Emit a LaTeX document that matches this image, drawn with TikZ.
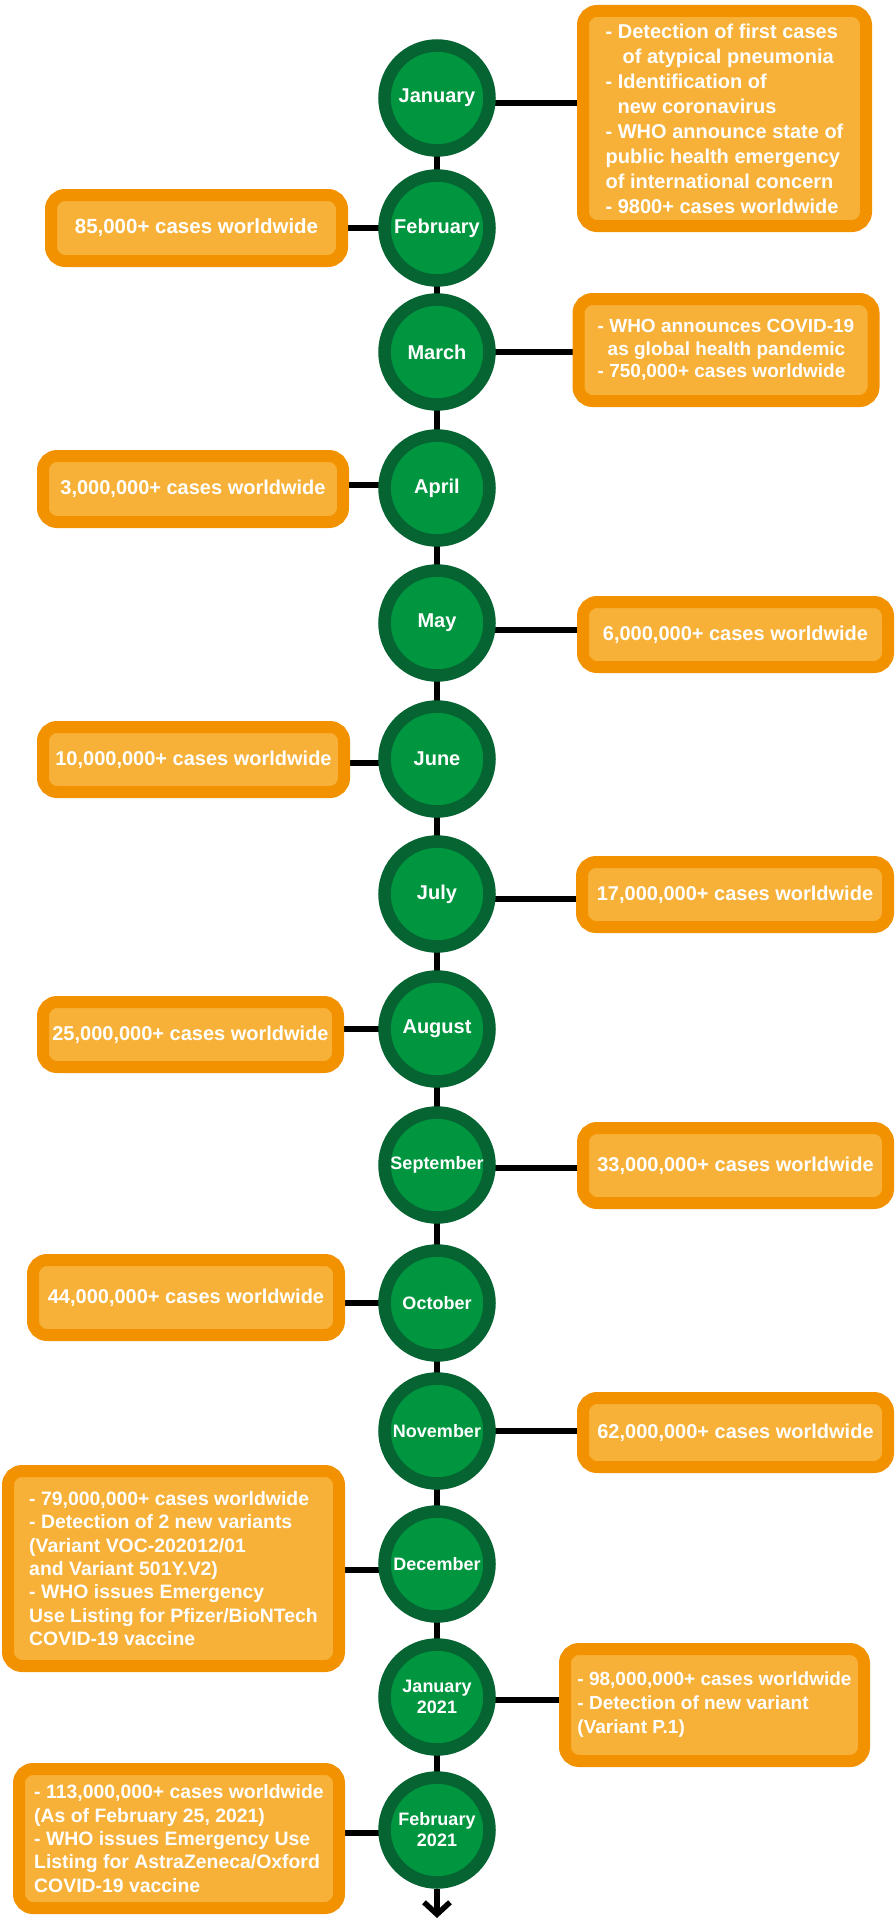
\documentclass[tikz,border=0pt]{standalone}
\usepackage{fontspec}
\setmainfont{Liberation Sans}
\usetikzlibrary{arrows.meta,backgrounds,calc}
\definecolor{boxouter}{RGB}{242,146,0}
\definecolor{boxinner}{RGB}{247,177,56}
\definecolor{ringgreen}{RGB}{6,100,50}
\definecolor{fillgreen}{RGB}{0,150,64}
\tikzset{
  month/.style={circle, draw=ringgreen, line width=12.5pt, fill=fillgreen, minimum size=105pt, inner sep=0pt, text=white, align=center, font=\bfseries\fontsize{20}{22}\selectfont},
  monthsmall/.style={month, font=\bfseries\fontsize{18}{21}\selectfont},
  event/.style={rectangle, rounded corners=14pt, draw=boxouter, line width=12pt, fill=boxinner, text=white, inner sep=0pt, align=left, font=\bfseries\fontsize{20}{25}\selectfont},
  eventsmall/.style={event, font=\bfseries\fontsize{19.4}{23.3}\selectfont},
  link/.style={line width=5.5pt, draw=black},
}
\begin{document}
\begin{tikzpicture}[x=1pt, y=-1pt]
\useasboundingbox (0,0) rectangle (896,1927);
% month circles
\node[month] (janc) at (437,98) {January};
\node[month] (febc) at (437,228) {February};
\node[month] (marc) at (437,352) {March};
\node[month] (aprc) at (437,488) {April};
\node[month] (mayc) at (437,623) {May};
\node[month] (junc) at (437,759) {June};
\node[month] (julc) at (437,894) {July};
\node[month] (augc) at (437,1029) {August};
\node[monthsmall] (sepc) at (437,1165) {September};
\node[monthsmall] (octc) at (437,1303) {October};
\node[monthsmall] (novc) at (437,1431) {November};
\node[monthsmall] (decc) at (437,1564) {December};
\node[monthsmall] (jan21c) at (437,1697) {January\\2021};
\node[monthsmall] (feb21c) at (437,1830) {February\\2021};
\coordinate (tip) at (437,1918);
% event boxes
\node[event, minimum width=283pt, minimum height=215pt] (janb) at (724.5,118.5)
  {- Detection of first cases\\\hspace*{17pt}of atypical pneumonia\\- Identification of\\\hspace*{12pt}new coronavirus\\- WHO announce state of\\public health emergency\\of international concern\\- 9800+ cases worldwide};
\node[event, minimum width=291pt, minimum height=66pt, font=\bfseries\fontsize{20.5}{24}\selectfont] (febb) at (196.5,228) {85,000+ cases worldwide};
\node[event, minimum width=295pt, minimum height=102pt, font=\bfseries\fontsize{19}{22.5}\selectfont] (marb) at (726,350)
  {- WHO announces COVID-19\\\hspace*{10pt}as global health pandemic\\- 750,000+ cases worldwide};
\node[event, minimum width=300pt, minimum height=66pt] (aprb) at (193,489) {3,000,000+ cases worldwide};
\node[event, minimum width=305pt, minimum height=65pt] (mayb) at (735.5,634.5) {6,000,000+ cases worldwide};
\node[event, minimum width=301pt, minimum height=65pt] (junb) at (193.5,759.5) {10,000,000+ cases worldwide};
\node[event, minimum width=306pt, minimum height=65pt] (julb) at (735,894.5) {17,000,000+ cases worldwide};
\node[event, minimum width=295pt, minimum height=65pt] (augb) at (190.5,1034.5) {25,000,000+ cases worldwide};
\node[event, minimum width=305pt, minimum height=75pt] (sepb) at (735.5,1165.5) {33,000,000+ cases worldwide};
\node[event, minimum width=306pt, minimum height=75pt] (octb) at (186,1297.5) {44,000,000+ cases worldwide};
\node[event, minimum width=305pt, minimum height=69pt] (novb) at (735.5,1432.5) {62,000,000+ cases worldwide};
\node[eventsmall, minimum width=331pt, minimum height=195pt] (decb) at (173.5,1568.5)
  {- 79,000,000+ cases worldwide\\- Detection of 2 new variants\\(Variant VOC-202012/01\\and Variant 501Y.V2)\\- WHO issues Emergency\\Use Listing for Pfizer/BioNTech\\COVID-19 vaccine};
\node[event, minimum width=299pt, minimum height=112pt, font=\bfseries\fontsize{19}{24}\selectfont] (jan21b) at (714.5,1705)
  {- 98,000,000+ cases worldwide\\- Detection of new variant\\(Variant P.1)};
\node[eventsmall, minimum width=320pt, minimum height=139pt] (feb21b) at (179,1838.5)
  {- 113,000,000+ cases worldwide\\(As of February 25, 2021)\\- WHO issues Emergency Use\\Listing for AstraZeneca/Oxford\\COVID-19 vaccine};
% connectors
\begin{scope}[on background layer]
\draw[link] (janc.center) -- (febc.center) -- (marc.center) -- (aprc.center) -- (mayc.center) -- (junc.center) -- (julc.center) -- (augc.center) -- (sepc.center) -- (octc.center) -- (novc.center) -- (decc.center) -- (jan21c.center) -- (feb21c.center);
\draw[link] ($(janc.center)+(0,5)$) -- ($(janc.center -| janb.west)+(0,5)$);
\draw[link] (febc.center) -- (febc.center -| febb.east);
\draw[link] (marc.center) -- (marc.center -| marb.west);
\draw[link] ($(aprc.center)+(0,-3)$) -- ($(aprc.center -| aprb.east)+(0,-3)$);
\draw[link] ($(mayc.center)+(0,7)$) -- ($(mayc.center -| mayb.west)+(0,7)$);
\draw[link] ($(junc.center)+(0,4)$) -- ($(junc.center -| junb.east)+(0,4)$);
\draw[link] ($(julc.center)+(0,5)$) -- ($(julc.center -| julb.west)+(0,5)$);
\draw[link] (augc.center) -- (augc.center -| augb.east);
\draw[link] ($(sepc.center)+(0,3)$) -- ($(sepc.center -| sepb.west)+(0,3)$);
\draw[link] (octc.center) -- (octc.center -| octb.east);
\draw[link] (novc.center) -- (novc.center -| novb.west);
\draw[link] ($(decc.center)+(0,6)$) -- ($(decc.center -| decb.east)+(0,6)$);
\draw[link] ($(jan21c.center)+(0,3)$) -- ($(jan21c.center -| jan21b.west)+(0,3)$);
\draw[link] ($(feb21c.center)+(0,3)$) -- ($(feb21c.center -| feb21b.east)+(0,3)$);
\end{scope}
\draw[link, -{Straight Barb[length=12pt, width=26pt]}] (feb21c.south) -- (tip);
\end{tikzpicture}
\end{document}
